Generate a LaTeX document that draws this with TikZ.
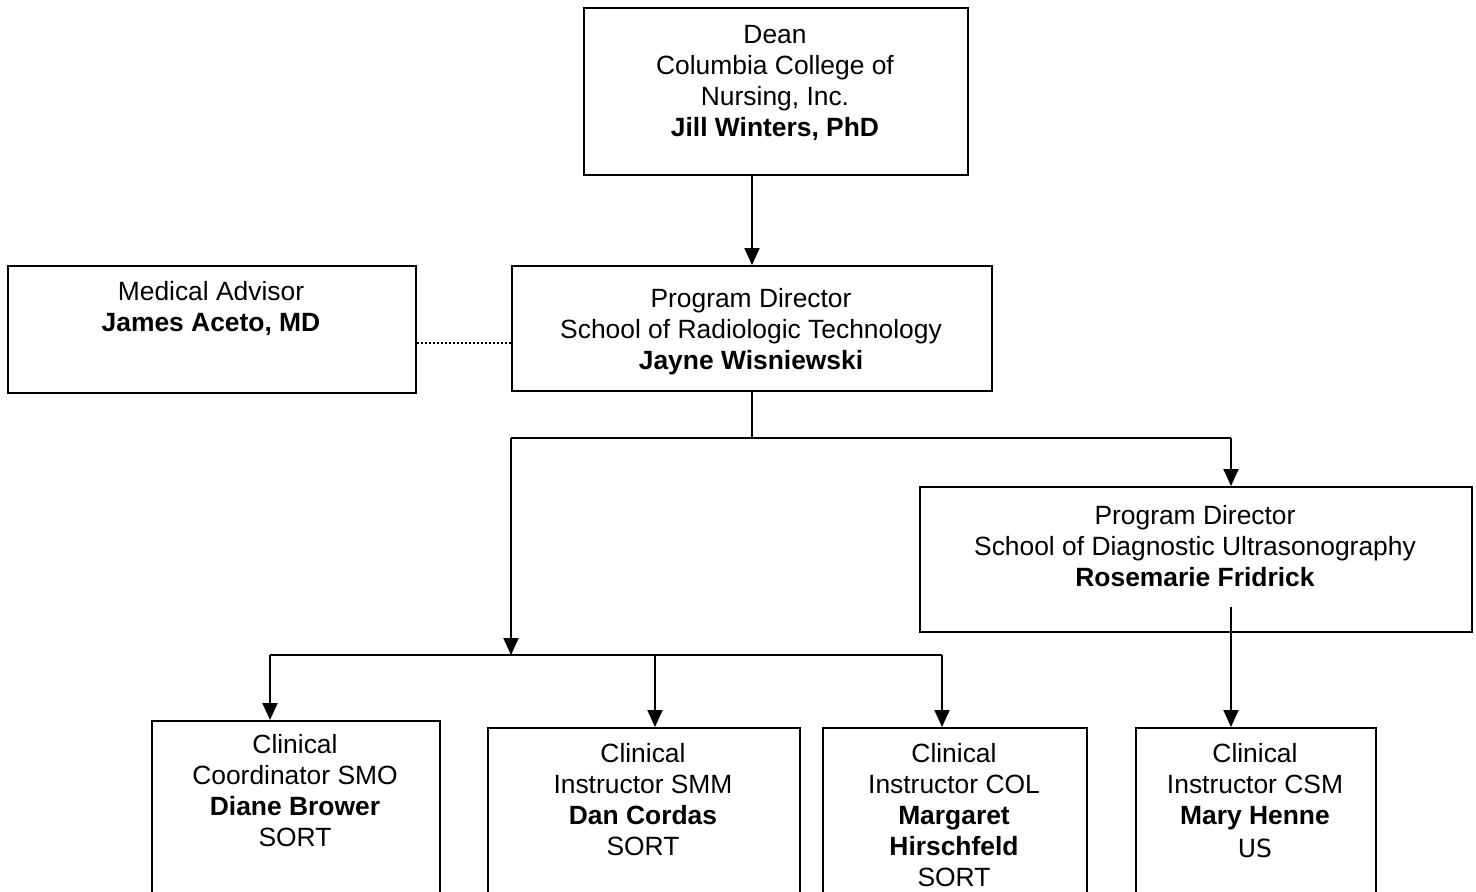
\documentclass[tikz,border=0pt]{standalone}
\usepackage{fontspec}
\setmainfont{Liberation Sans}
\newfontfamily\usfont{DejaVu Sans}
\usetikzlibrary{arrows.meta}
\tikzset{
  x=1pt, y=-1pt,
  box/.style={draw, line width=2pt, inner sep=0pt, anchor=north west},
  txt/.style={align=center, anchor=north, inner sep=0pt, font=\fontsize{26.4}{31}\selectfont},
  conn/.style={line width=2pt},
  arr/.style={line width=2pt, -{Triangle[length=17pt,width=15pt]}},
  dots/.style={line width=1.2pt, dash pattern=on 2pt off 2pt}
}
\begin{document}
\begin{tikzpicture}
\useasboundingbox (0,0) rectangle (1476,892);
\clip (0,0) rectangle (1476,892);
% boxes
\node[box, minimum width=384pt, minimum height=167pt] (dean) at (583,7) {};
\node[box, minimum width=408pt, minimum height=127pt] (med) at (7,265) {};
\node[box, minimum width=480pt, minimum height=125pt] (pdrt) at (511,265) {};
\node[box, minimum width=552pt, minimum height=145pt] (pdus) at (919,486) {};
\node[box, minimum width=288pt, minimum height=200pt] (smo) at (151,720) {};
\node[box, minimum width=312pt, minimum height=200pt] (smm) at (487,727) {};
\node[box, minimum width=264pt, minimum height=200pt] (col) at (822,727) {};
\node[box, minimum width=240pt, minimum height=200pt] (csm) at (1135,727) {};
% texts
\node[txt] (dean-t) at (775,21.3) {\strut Dean\\Columbia College of\\Nursing, Inc.\\\textbf{Jill Winters, PhD}};
\node[txt] (med-t) at (211,279) {\strut Medical Advisor\\\textbf{James Aceto, MD}};
\node[txt] (pdrt-t) at (751,285.3) {\strut Program Director\\School of Radiologic Technology\\\textbf{Jayne Wisniewski}};
\node[txt] (pdus-t) at (1195,503) {\strut Program Director\\School of Diagnostic Ultrasonography\\\textbf{Rosemarie Fridrick}};
\node[txt] (smo-t) at (295,731.3) {\strut Clinical\\Coordinator SMO\\\textbf{Diane Brower}\\SORT};
\node[txt] (smm-t) at (643,740.3) {\strut Clinical\\Instructor SMM\\\textbf{Dan Cordas}\\SORT};
\node[txt] (col-t) at (954,740.3) {\strut Clinical\\Instructor COL\\\textbf{Margaret}\\\textbf{Hirschfeld}\\SORT};
\node[txt] (csm-t) at (1255,740.3) {\strut Clinical\\Instructor CSM\\\textbf{Mary Henne}\\[2pt]{\usfont\fontsize{25}{31}\selectfont US}};
% coordinates
\coordinate (dotY) at (0,343);
\coordinate (busA) at (0,438);
\coordinate (busB) at (0,655);
\coordinate (xSplit) at (511,0);
\coordinate (xUS) at (1231,0);
\coordinate (xSMO) at (270,0);
\coordinate (xSMM) at (655,0);
\coordinate (xCOL) at (942,0);
\coordinate (usStart) at (1231,607);
% connectors
\draw[arr] (pdrt.north |- dean.south) -- (pdrt.north);
\draw[dots] (med.east |- dotY) -- (pdrt.west |- dotY);
\draw[conn] (pdrt.south) -- (pdrt.south |- busA);
\draw[conn] (xSplit |- busA) -- (xUS |- busA);
\draw[arr] (xSplit |- busA) -- (xSplit |- busB);
\draw[arr] (xUS |- busA) -- (xUS |- pdus.north);
\draw[conn] (xSMO |- busB) -- (xCOL |- busB);
\draw[arr] (xSMO |- busB) -- (xSMO |- smo.north);
\draw[arr] (xSMM |- busB) -- (xSMM |- smm.north);
\draw[arr] (xCOL |- busB) -- (xCOL |- col.north);
\draw[arr] (usStart) -- (usStart |- csm.north);
\end{tikzpicture}
\end{document}
